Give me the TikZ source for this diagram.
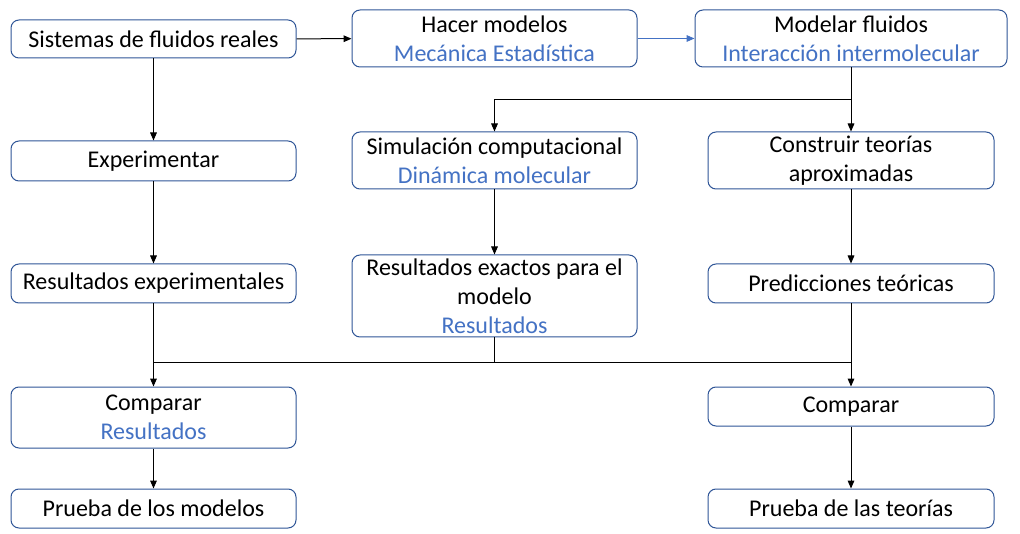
\documentclass[tikz,border=0pt]{standalone}
\usepackage{fontspec}
\setmainfont{Carlito}
\usepackage{xcolor}
\usepackage{tikz}
\usetikzlibrary{arrows.meta}

\definecolor{boxline}{HTML}{2F5597}
\definecolor{txtblue}{HTML}{4472C4}

\begin{document}
\begin{tikzpicture}[
			x=0.75pt, y=-0.75pt,
			font=\fontsize{18}{21.75}\selectfont,
			every node/.style={align=center},
			box/.style={rectangle, rounded corners=6pt, draw=boxline, line width=0.75pt,
				fill=white, inner sep=0pt, minimum width=213.75pt, minimum height=28.5pt},
			wide/.style={minimum width=214.5pt},
			tall/.style={minimum height=42.75pt},
			arr/.style={-{Triangle[length=6pt,width=5pt]}, line width=0.75pt},
			link/.style={line width=0.75pt},
			]
			\useasboundingbox (0,0) rectangle (1020,534);
			
			% fila superior
			\node[box] (sistemas) at (153.5,39) {Sistemas de fluidos reales};
			\node[box, tall] (modelos) at (494.5,38.5) {Hacer modelos\\\textcolor{txtblue}{Mecánica Estadística}};
			\node[box, tall, minimum width=234pt] (fluidos) at (851,38.5) {Modelar fluidos\\\textcolor{txtblue}{Interacción intermolecular}};
			
			% segunda fila
			\node[box, minimum height=30pt] (experimentar) at (153.5,161) {Experimentar};
			\node[box, tall] (simulacion) at (494.5,160.5) {Simulación computacional\\\textcolor{txtblue}{Dinámica molecular}};
			\node[box, tall, wide] (teorias) at (851,160.5) {Construir teorías\\aproximadas};
			
			% tercera fila
			\node[box, minimum height=29.25pt] (resexp) at (153.5,283.5) {Resultados experimentales};
			\node[box, minimum height=61.5pt] (resexactos) at (494.5,296) {Resultados exactos para el\\modelo\\\textcolor{txtblue}{Resultados}};
			\node[box, wide, minimum height=29.25pt] (predicciones) at (851,283.5) {Predicciones teóricas};
			
			% comparaciones
			\node[box, minimum height=45.75pt] (compmod) at (153.5,417.5) {Comparar\\\textcolor{txtblue}{Resultados}};
			\node[box, wide, minimum height=29.25pt] (compteo) at (851,406.5) {Comparar};
			
			% pruebas
			\node[box, minimum height=29.25pt] (pruebamod) at (153.5,508.5) {Prueba de los modelos};
			\node[box, wide, minimum height=29.25pt] (pruebateo) at (851,508.5) {Prueba de las teorías};
			
			% conectores
			\coordinate (split) at (851,100);
			\coordinate (merge) at (494.5,362);
			\draw[arr] (sistemas) -- (modelos);
			\draw[arr, txtblue] (modelos) -- (fluidos);
			\draw[link] (fluidos.south) -- (split);
			\draw[arr] (split) -| (simulacion.north);
			\draw[arr] (split) -- (teorias.north);
			\draw[arr] (sistemas) -- (experimentar);
			\draw[arr] (experimentar) -- (resexp);
			\draw[arr] (simulacion) -- (resexactos);
			\draw[arr] (teorias) -- (predicciones);
			\draw[arr] (resexp) -- (compmod);
			\draw[arr] (predicciones) -- (compteo);
			\draw[link] (resexactos.south) -- (merge);
			\draw[link] (resexp.south |- merge) -- (predicciones.south |- merge);
			\draw[arr] (compmod) -- (pruebamod);
			\draw[arr] (compteo) -- (pruebateo);
			
		\end{tikzpicture}
\end{document}
